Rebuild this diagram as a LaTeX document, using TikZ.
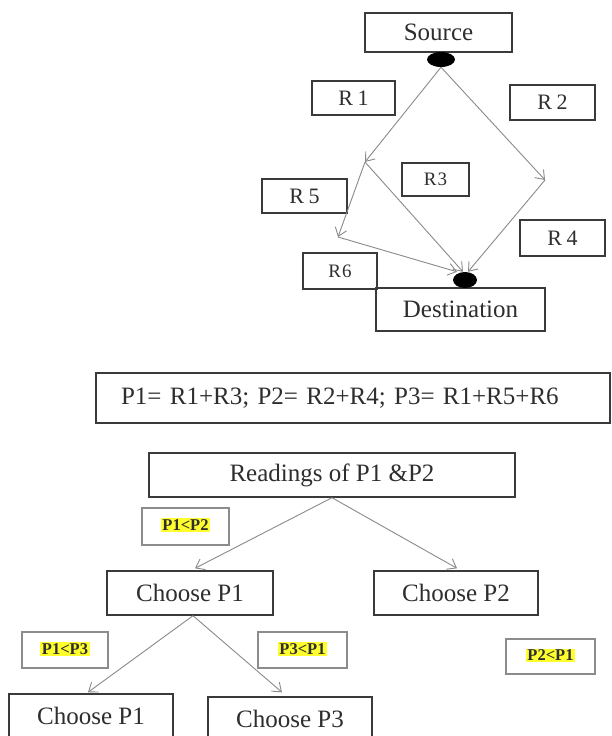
\documentclass[tikz,border=0pt]{standalone}
\usepackage{fontspec}
\setmainfont{Liberation Serif}
\usetikzlibrary{arrows.meta,calc,shapes.geometric}
\definecolor{bord}{HTML}{3A3A3A}
\definecolor{lbord}{HTML}{8C8C8C}
\definecolor{conn}{HTML}{8A8A8A}
\definecolor{txt}{HTML}{2E2E2E}
\definecolor{hl}{HTML}{FFFF2E}
\tikzset{
  box/.style={draw=bord, line width=1.4pt, rectangle, inner sep=0pt, text=txt, font=\fontsize{25}{28}\selectfont},
  rbox/.style={box, font=\fontsize{22}{25}\selectfont\addfontfeatures{LetterSpace=20}},
  rsmall/.style={box, font=\fontsize{19}{22}\selectfont\addfontfeatures{LetterSpace=5}},
  lbox/.style={draw=lbord, line width=1.1pt, rectangle, inner sep=0pt},
  hltext/.style={fill=hl, inner sep=1.5pt, text=txt, font=\fontsize{16.5}{18}\selectfont\bfseries},
  conn/.style={draw=conn, line width=0.9pt},
  arr/.style={conn, -{Straight Barb[length=8pt,width=12pt]}},
  dot/.style={ellipse, fill=black, inner sep=0pt}
}
\begin{document}
\begin{tikzpicture}[x=1pt,y=-1pt]
\useasboundingbox (0,0) rectangle (612,736);
\clip (0,0) rectangle (612,736);
\fill[white] (0,0) rectangle (612,736);
% top graph
\node[box, minimum width=147, minimum height=39] (src) at (438.5,32.5) {Source};
\node[dot, minimum width=28, minimum height=15] (sdot) at (441,59.5) {};
\node[rbox, minimum width=83, minimum height=34] (r1) at (353.5,98) {R1};
\node[rbox, minimum width=85, minimum height=35] (r2) at (552.5,102.5) {R2};
\node[rsmall, minimum width=67, minimum height=33] (r3) at (435.5,179.5) {R3};
\node[rbox, minimum width=85, minimum height=34] (r5) at (304.5,196) {R5};
\node[rbox, minimum width=85, minimum height=36] (r4) at (562.5,238) {R4};
\node[rsmall, minimum width=74, minimum height=36] (r6) at (340,271) {R6};
\node[box, minimum width=169, minimum height=43] (dst) at (460.5,309.5) {Destination};
\node[dot, minimum width=24, minimum height=16] (ddot) at (465,280) {};
\coordinate (A) at (365,162);
\coordinate (B) at (545,180);
\coordinate (C) at (338,237);
\draw[arr] (sdot.south) -- (A);
\draw[arr] (sdot.south) -- (B);
\draw[arr] (A) -- ([xshift=-2pt]ddot.north);
\draw[arr] (A) -- (C);
\draw[arr] (C) -- ([xshift=-8pt]ddot.north);
\draw[arr] (B) -- ([xshift=3pt]ddot.north);
% formula
\node[box, minimum width=514, minimum height=50, inner xsep=25pt, text width=464pt, align=left] (frm) at (353,398) {P1= R1+R3; P2= R2+R4; P3= R1+R5+R6};
% decision tree
\node[box, minimum width=366, minimum height=44] (rd) at (332,475) {Readings of P1 \&P2};
\node[box, minimum width=166, minimum height=44] (cp1) at (190,593) {Choose P1};
\node[box, minimum width=164, minimum height=44] (cp2) at (456,593) {Choose P2};
\node[box, minimum width=164, minimum height=44] (cp1b) at (91,716) {Choose P1};
\node[box, minimum width=164, minimum height=44] (cp3) at (290,719) {Choose P3};
\node[lbox, minimum width=87, minimum height=37] (l12) at (185.5,526.5) {};
\node[hltext] (t12) at (185.5,525) {P1<P2};
\node[lbox, minimum width=86, minimum height=36] (l13) at (65,650) {};
\node[hltext] (t13) at (65,649) {P1<P3};
\node[lbox, minimum width=89, minimum height=36] (l31) at (302.5,650) {};
\node[hltext] (t31) at (302.5,649) {P3<P1};
\node[lbox, minimum width=89, minimum height=35] (l21) at (550.5,656.5) {};
\node[hltext] (t21) at (550.5,655.5) {P2<P1};
\draw[arr] (rd.south) -- ([xshift=5pt,yshift=2pt]cp1.north);
\draw[arr] (rd.south) -- ([xshift=1pt,yshift=2pt]cp2.north);
\draw[arr] ([xshift=3pt]cp1.south) -- ([xshift=-3pt,yshift=1pt]cp1b.north);
\draw[arr] ([xshift=3pt]cp1.south) -- ([xshift=-8pt,yshift=4pt]cp3.north);
\end{tikzpicture}
\end{document}
